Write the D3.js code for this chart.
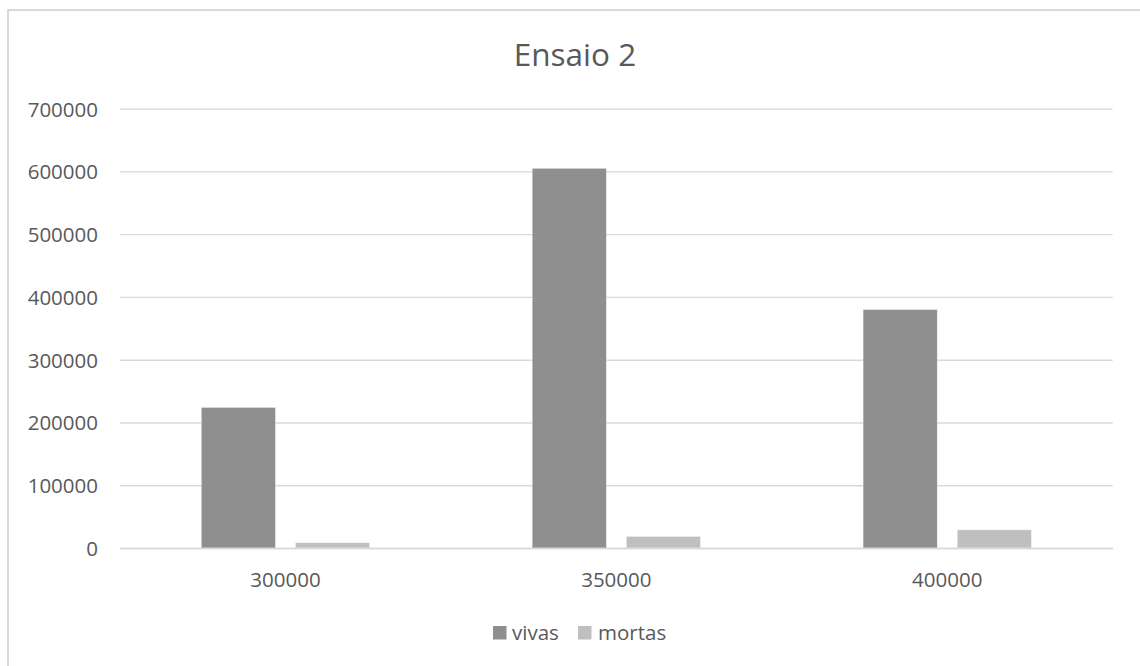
<!DOCTYPE html>
<html>
<head>
<meta charset="utf-8">
<script src="https://cdn.jsdelivr.net/npm/d3@7"></script>
<style>
  html, body { margin: 0; padding: 0; background: #fff; }
  svg { display: block; }
  text { font-family: "Open Sans", "Noto Sans", sans-serif; fill: #595959; }
</style>
</head>
<body>
<svg id="chart" width="1140" height="666"></svg>
<script>
// Chart data
const title = "Ensaio 2";
const categories = ["300000", "350000", "400000"];
const seriesNames = ["vivas", "mortas"];
const vivas = [224000, 605000, 380000];
const mortas = [8500, 18500, 29000];
const yTicks = [0, 100000, 200000, 300000, 400000, 500000, 600000, 700000];

const colors = { vivas: "#8f8f8f", mortas: "#bfbfbf" };
const seriesValues = { vivas, mortas };

const svg = d3.select("#chart");
const W = 1140, H = 666;

// Outer chart frame
svg.append("rect")
  .attr("x", 8).attr("y", 10)
  .attr("width", W + 10).attr("height", H + 10)
  .attr("fill", "#fff")
  .attr("stroke", "#d9d9d9")
  .attr("stroke-width", 2);

const plot = { left: 120, right: 1112.7, top: 108.7, bottom: 548 };

const y = d3.scaleLinear()
  .domain([0, 700000])
  .range([plot.bottom, plot.top]);

const x0 = d3.scaleBand()
  .domain(categories)
  .range([plot.left, plot.right])
  .paddingInner(0).paddingOuter(0);

const outer = x0.bandwidth() * 0.2457;
const x1 = d3.scaleBand()
  .domain(seriesNames)
  .range([outer, x0.bandwidth() - outer])
  .paddingInner(0.212).paddingOuter(0);

// Horizontal gridlines with tick labels
const yAxis = d3.axisLeft(y)
  .tickValues(yTicks)
  .tickSize(-(plot.right - plot.left))
  .tickPadding(22)
  .tickFormat(d3.format("d"));

const gy = svg.append("g")
  .attr("transform", `translate(${plot.left},0)`)
  .call(yAxis);
gy.select(".domain").remove();
gy.selectAll(".tick line")
  .attr("stroke", "#d9d9d9")
  .attr("stroke-width", 1.3);
gy.selectAll(".tick text")
  .attr("font-size", "20.5px")
  .attr("fill", "#595959")
  .attr("dy", "0.36em");

// Bars
const groups = svg.append("g")
  .selectAll("g")
  .data(categories)
  .join("g")
  .attr("transform", d => `translate(${x0(d)},0)`);

groups.selectAll("rect")
  .data((d, i) => seriesNames.map(s => ({ s, v: seriesValues[s][i] })))
  .join("rect")
  .attr("x", d => x1(d.s))
  .attr("width", x1.bandwidth())
  .attr("y", d => y(d.v))
  .attr("height", d => y(0) - y(d.v))
  .attr("fill", d => colors[d.s])
  .attr("stroke", "#ffffff")
  .attr("stroke-opacity", 0.5)
  .attr("stroke-width", 0.75);

// Category axis baseline and labels
const xAxis = d3.axisBottom(x0).tickSize(0).tickPadding(24);
const gx = svg.append("g")
  .attr("transform", `translate(0,${plot.bottom})`)
  .call(xAxis);
gx.select(".domain")
  .attr("stroke", "#d9d9d9")
  .attr("stroke-width", 1.5);
gx.selectAll(".tick text")
  .attr("font-size", "20.5px")
  .attr("fill", "#595959");

// Title
svg.append("text")
  .attr("x", 575)
  .attr("y", 66)
  .attr("text-anchor", "middle")
  .attr("font-size", "31.5px")
  .text(title);

// Legend
const legendItems = [
  { name: "vivas", sx: 493, tx: 512 },
  { name: "mortas", sx: 578, tx: 598 }
];
const legend = svg.append("g");
legend.selectAll("rect")
  .data(legendItems)
  .join("rect")
  .attr("x", d => d.sx)
  .attr("y", 626)
  .attr("width", 13.5)
  .attr("height", 13.5)
  .attr("fill", d => colors[d.name]);
legend.selectAll("text")
  .data(legendItems)
  .join("text")
  .attr("x", d => d.tx)
  .attr("y", 640)
  .attr("font-size", "20.5px")
  .text(d => d.name);
</script>
</body>
</html>
